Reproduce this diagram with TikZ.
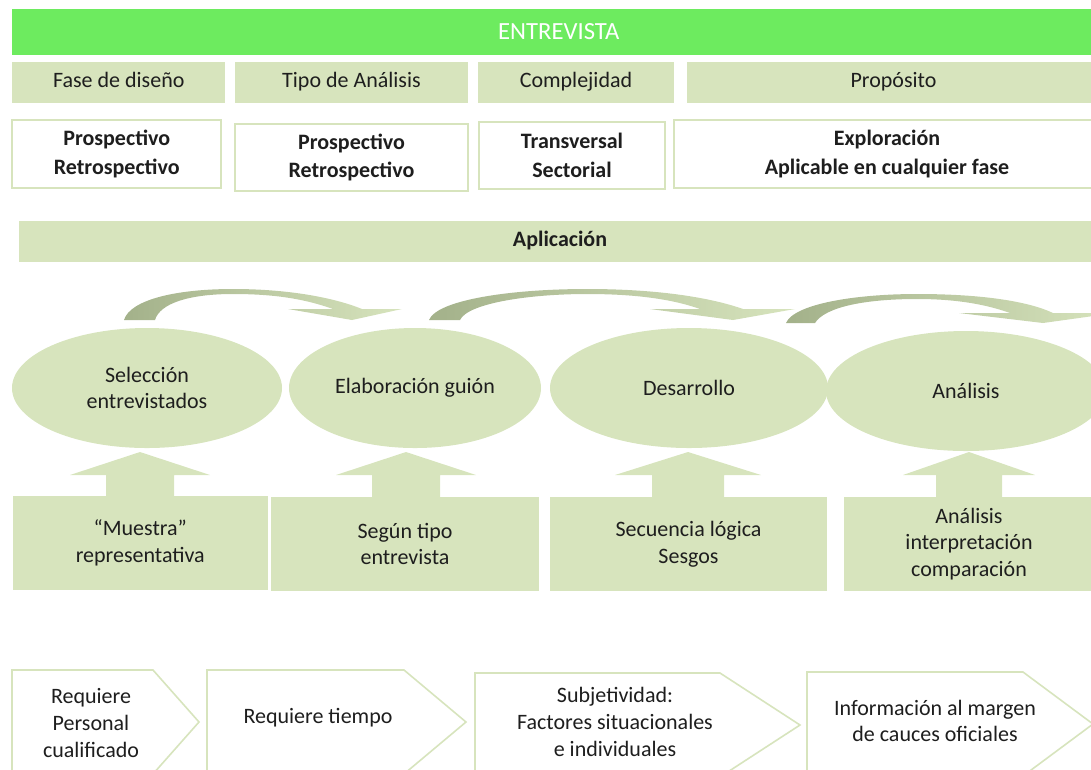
\documentclass[tikz,border=0pt]{standalone}
\usepackage{fontspec}
\setmainfont{Carlito}
\usetikzlibrary{shapes.geometric}

\definecolor{pale}{HTML}{D7E4BD}
\definecolor{lime}{HTML}{6DEB5F}
\definecolor{curldark}{HTML}{A3B18A}
\definecolor{ink}{HTML}{1E1E1E}

\begin{document}
\begin{tikzpicture}[
        x=0.75pt, y=-0.75pt,
        font=\fontsize{16.5}{20}\selectfont, text=ink,
        band/.style={rectangle, fill=lime, text=white, inner sep=0pt,
                     font=\fontsize{18.5}{22}\selectfont},
        cat/.style={rectangle, fill=pale, inner sep=0pt,
                    text height=1.5ex, text depth=0pt},
        cell/.style={rectangle, draw=pale, line width=1.5pt, fill=white,
                     inner sep=0pt, align=center,
                     font=\fontsize{16.5}{21.5}\selectfont\bfseries},
        stage/.style={ellipse, fill=pale, inner sep=0pt, align=center,
                      minimum height=90pt},
        foot/.style={rectangle, fill=pale, inner sep=0pt, align=center,
                     minimum height=70pt},
        chev/.style={draw=pale, line width=1.2pt, fill=white},
        lift/.style={fill=pale},
        curlshade/.style={left color=curldark, middle color=pale, right color=pale}
      ]
        \useasboundingbox (0,0) rectangle (1091,769);
        \clip (0,0) rectangle (1091,769);

        % title and the four headings
        \node[band, minimum width=819.4pt, minimum height=34.5pt] (title) at (558.75,32) {ENTREVISTA};
        \node[cat, minimum width=159.4pt, minimum height=30.75pt] (fase) at (118.75,82.5) {Fase de diseño};
        \node[cat, minimum width=174.75pt, minimum height=30.75pt] (tipo) at (351.5,82.5) {Tipo de Análisis};
        \node[cat, minimum width=147pt, minimum height=30.75pt] (comp) at (576,82.5) {Complejidad};
        \node[cat, minimum width=309.75pt, minimum height=30.75pt] (prop) at (893.5,82.5) {Propósito};

        \node[cell, minimum width=156.4pt, minimum height=51pt] (faseval) at (116.75,154) {Prospectivo\\Retrospectivo};
        \node[cell, minimum width=174.75pt, minimum height=50.25pt] (tipoval) at (351.5,157.5) {Prospectivo\\Retrospectivo};
        \node[cell, minimum width=139.5pt, minimum height=50.25pt] (compval) at (572,155.5) {Transversal\\Sectorial};
        \node[cell, minimum width=319.5pt, minimum height=51pt] (propval) at (887,154) {Exploración\\Aplicable en cualquier fase};

        \node[cat, minimum width=811.5pt, minimum height=30.75pt, font=\fontsize{16.5}{20}\selectfont\bfseries]
          (aplic) at (560,241.5) {Aplicación};

        % bent arrows between the stages
        \shade[curlshade] (124,320) .. controls (130,300) and (175,289) .. (233,289)
          .. controls (290,289) and (335,298) .. (362,309) -- (402,309) -- (352,320)
          -- (288,309) -- (333,309) .. controls (305,299) and (275,294) .. (233,294)
          .. controls (190,294) and (160,303) .. (155,320) -- cycle;
        \shade[curlshade] (429,320) .. controls (437,300) and (510,289) .. (587,289)
          .. controls (660,289) and (712,298) .. (743,309) -- (795,309) -- (733,320)
          -- (650,309) -- (700,309) .. controls (672,299) and (635,294) .. (587,294)
          .. controls (530,294) and (468,303) .. (460,320) -- cycle;
        \shade[curlshade] (786,323) .. controls (794,304) and (855,294) .. (917,294)
          .. controls (985,294) and (1030,302) .. (1053,313) -- (1115,313) -- (1043,323)
          -- (959,313) -- (1010,313) .. controls (985,304) and (955,299) .. (917,299)
          .. controls (865,299) and (825,307) .. (815,323) -- cycle;

        % stages
        \node[stage, minimum width=202.5pt] (sel) at (147,388) {Selección\\entrevistados};
        \node[stage, minimum width=189pt] (elab) at (415,388) {Elaboración guión};
        \node[stage, minimum width=208.5pt] (des) at (689,388) {Desarrollo};
        \node[stage, minimum width=210pt] (ana) at (966,391) {Análisis};

        % arrows up from the boxes
        \foreach \x/\h/\s in {140/70/34, 406/70/34, 688/73/36, 969/66/33}
          \fill[lift] ({\x-\s},498) -- ({\x-\s},475) -- ({\x-\h},475) -- (\x,452)
            -- ({\x+\h},475) -- ({\x+\s},475) -- ({\x+\s},498) -- cycle;

        \node[foot, minimum width=191.6pt] (muestra) at (140.25,543) {“Muestra”\\representativa};
        \node[foot, minimum width=201pt] (segun) at (405,544) {Según tipo\\entrevista};
        \node[foot, minimum width=207.75pt] (secu) at (688.5,544) {Secuencia lógica\\Sesgos};
        \node[foot, minimum width=187.5pt] (interp) at (969,544) {Análisis\\interpretación\\comparación};

        % limitations
        \draw[chev] (12,670) -- (153,670) -- (199,722) -- (153,774) -- (12,774) -- cycle;
        \draw[chev] (207,670) -- (404,670) -- (466,722) -- (404,774) -- (207,774) -- cycle;
        \draw[chev] (475,673) -- (720,673) -- (800,725) -- (720,777) -- (475,777) -- cycle;
        \draw[chev] (807,672) -- (1023,672) -- (1093,724) -- (1023,776) -- (807,776) -- cycle;

        \node[align=center] (pers) at (91,723) {Requiere\\Personal\\cualificado};
        \node[align=center] (tiempo) at (318,718) {Requiere tiempo};
        \node[align=center] (subj) at (615,722) {Subjetividad:\\Factores situacionales\\e individuales};
        \node[align=center] (info) at (935,721) {Información al margen\\de cauces oficiales};
      \end{tikzpicture}
\end{document}
